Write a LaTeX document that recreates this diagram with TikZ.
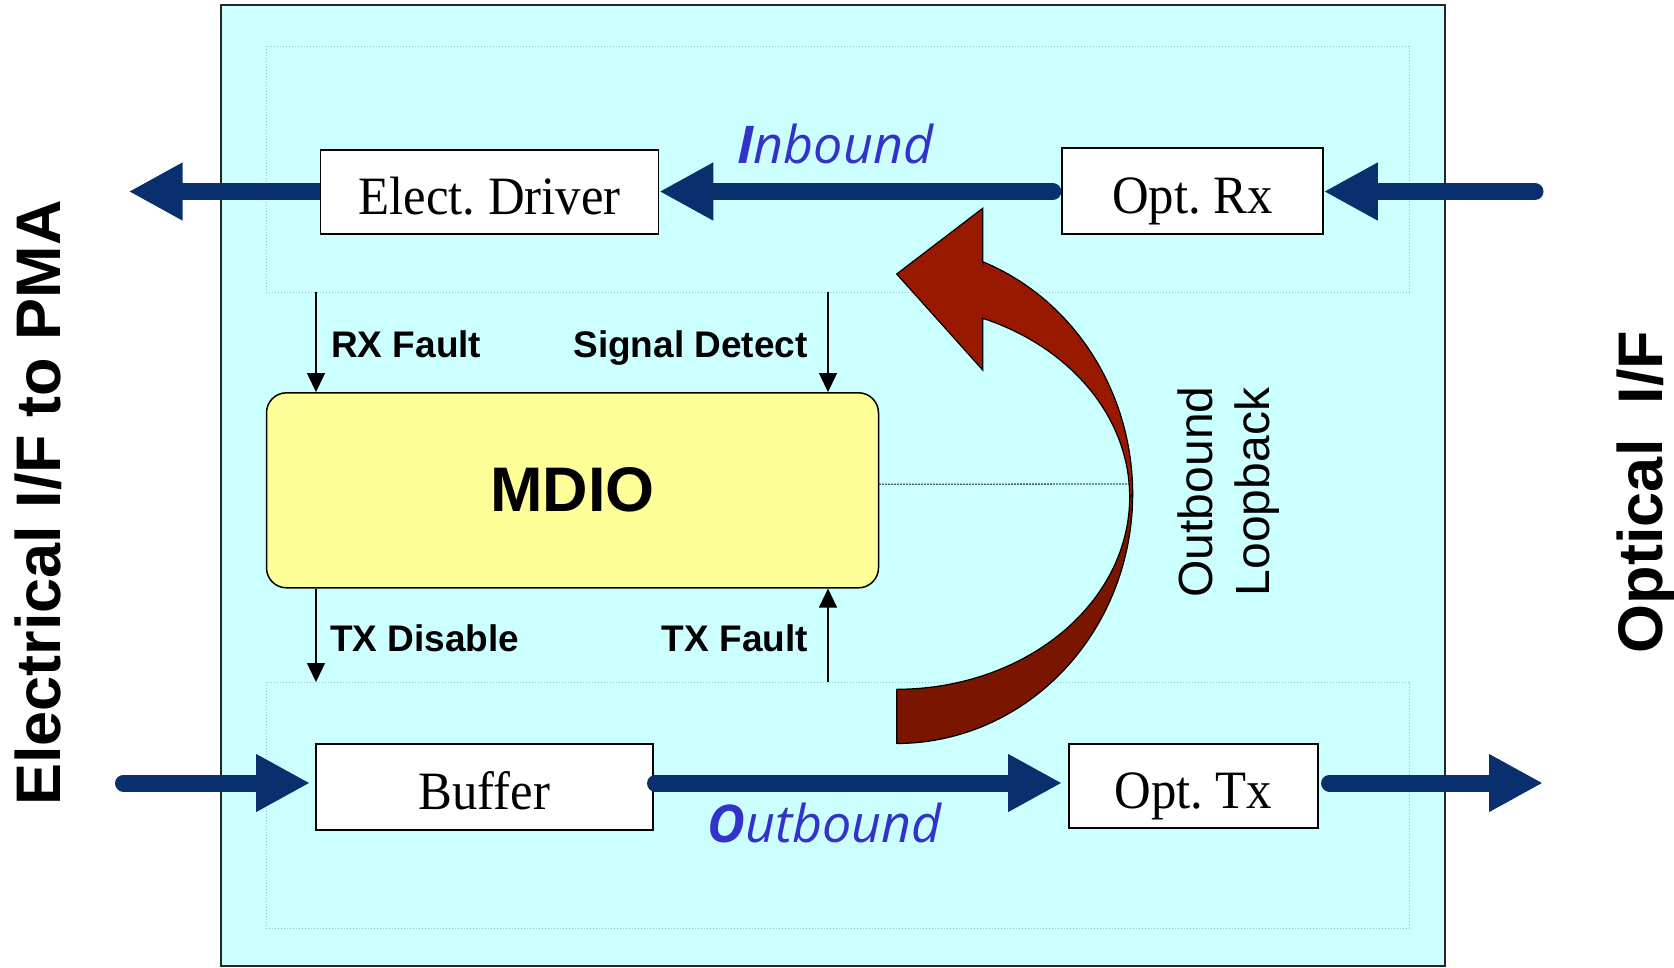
\documentclass[tikz,border=0pt]{standalone}
\usepackage{fontspec}
\setmainfont{Liberation Serif}
\setsansfont{Liberation Sans}
\newfontfamily\osfont{Open Sans}
\newfontfamily\boxfont[FakeStretch=0.94]{Liberation Serif}
\usetikzlibrary{arrows.meta,calc}
\definecolor{bgcyan}{HTML}{CCFFFF}
\definecolor{arrblue}{HTML}{0A2F6E}
\definecolor{txtblue}{HTML}{3333CC}
\definecolor{mdioyel}{HTML}{FFFF99}
\definecolor{redfront}{HTML}{991900}
\definecolor{redback}{HTML}{7A1500}
\definecolor{dotgray}{HTML}{9DBCC4}
\newcommand\myfs[1]{\fontsize{#1}{#1}\selectfont}
\frenchspacing
\begin{document}
\begin{tikzpicture}[x=1pt,y=-1pt,
  box/.style={draw=black,line width=1.5pt,fill=white,inner sep=0pt,text height=47pt,text depth=3pt,font=\boxfont\myfs{54}},
  bigarrow/.style={draw=arrblue,line width=17pt,-{Triangle[length=54pt,width=54pt]}},
  sigarrow/.style={draw=black,line width=1.3pt,-{Triangle[length=19pt,width=18pt]}},
  siglabel/.style={inner sep=0pt,font=\sffamily\bfseries\myfs{37}},
  region/.style={draw=dotgray,line width=1pt,dash pattern=on 1pt off 2pt},
  flowlabel/.style={anchor=base west,inner sep=0pt,text=txtblue,font=\osfont\itshape\myfs{52}},
  sidetitle/.style={anchor=base,rotate=90,inner sep=0pt,font=\sffamily\bfseries\myfs{63}}
]
\useasboundingbox (0,0) rectangle (1674,967);
% frame and regions
\draw[fill=bgcyan,line width=2pt,draw=black!85] (220.5,4.5) rectangle (1444.5,965.5);
\draw[region] (266,46) rectangle (1409,292);
\draw[region] (266,682) rectangle (1409,928);

% boxes
\node[box,minimum width=338pt,minimum height=84pt] (drv) at (489.5,192) {Elect. Driver};
\node[box,minimum width=261pt,minimum height=86pt] (orx) at (1192.5,191) {Opt. Rx};
\node[box,minimum width=337pt,minimum height=86pt] (buf) at (484.3,787) {Buffer};
\node[box,minimum width=249pt,minimum height=84pt] (otx) at (1193.3,786) {Opt. Tx};
\node[draw=black,line width=1.5pt,fill=mdioyel,rounded corners=20pt,minimum width=612pt,minimum height=195pt,inner sep=0pt,font=\sffamily\bfseries\myfs{63}] (mdio) at (572.5,490.3) {MDIO};

% free ends
\coordinate (elout) at (128.6,191.5);
\coordinate (optin) at (1535,191.5);
\coordinate (elin) at (123.5,783);
\coordinate (optout) at (1543,783);

% thick flow arrows
\draw[bigarrow,line cap=butt] (drv.west |- elout) -- (elout);
\draw[bigarrow,line cap=round,shorten <=8.5pt] (orx.west |- elout) -- (drv.east |- elout);
\draw[bigarrow,line cap=round] (optin) -- (orx.east |- optin);
\draw[bigarrow,line cap=round,shorten >=5pt] (elin) -- (elin -| buf.west);
\draw[bigarrow,line cap=round,shorten <=2pt,shorten >=6pt] (buf.east |- elin) -- (otx.west |- elin);
\draw[bigarrow,line cap=round,shorten <=11pt] (otx.east |- optout) -- (optout);

% signal arrows
\coordinate (rxtop) at (316,292);
\coordinate (sdtop) at (828,292);
\coordinate (txdbot) at (316,682);
\coordinate (txfbot) at (828,682);
\draw[sigarrow] (rxtop) -- (rxtop |- mdio.north);
\draw[sigarrow] (sdtop) -- (sdtop |- mdio.north);
\draw[sigarrow] (txdbot |- mdio.south) -- (txdbot);
\draw[sigarrow] (txfbot) -- (txfbot |- mdio.south);

\node[siglabel,anchor=base west] (rxl) at (331,357) {RX Fault};
\node[siglabel,anchor=base east] (sdl) at (808,357) {Signal Detect};
\node[siglabel,anchor=base west] (txdl) at (330,651) {TX Disable};
\node[siglabel,anchor=base east] (txfl) at (808,651) {TX Fault};

% flow labels
\node[flowlabel] (inb) at (737,163) {{\bfseries I}nbound};
\node[flowlabel] (outb) at (707,842) {{\bfseries O}utbound};

% dotted guide to loopback arrow
\coordinate (lbneck) at (1130,484);
\draw[black,line width=1.3pt,dash pattern=on 1.3pt off 1.7pt] ([yshift=6pt]mdio.east) -- (lbneck);

% loopback curved arrow
\filldraw[fill=redback,draw=black,line width=1.2pt,line join=round]
  (1132.7,494)
  -- plot[variable=\t,domain=0:90,samples=50] ({896.7+236*cos(\t)},{494+249.5*sin(\t)})
  -- (896.7,689.3)
  -- plot[variable=\t,domain=90:0,samples=50] ({896.7+233*cos(\t)},{497+192.3*sin(\t)})
  -- cycle;
\filldraw[fill=redfront,draw=black,line width=1.2pt,line join=miter]
  (982.7,261.7)
  -- plot[variable=\t,domain=-68.63:0,samples=50] ({896.7+236*cos(\t)},{494+249.5*sin(\t)})
  -- plot[variable=\t,domain=0:-68.34,samples=50] ({896.7+233*cos(\t)},{497+192.3*sin(\t)})
  -- (982.7,370) -- (896.7,274) -- (982.7,208.3) -- cycle;

\node[rotate=90,align=center,inner sep=0pt,font=\sffamily\fontsize{48}{57}\selectfont] (lbtxt) at (1229,492) {Outbound\\Loopback};

% side titles
\node[sidetitle] (eltitle) at (60,503) {Electrical I/F to PMA};
\node[sidetitle] (optitle) at (1662,492) {Optical~~I/F};
\end{tikzpicture}
\end{document}
